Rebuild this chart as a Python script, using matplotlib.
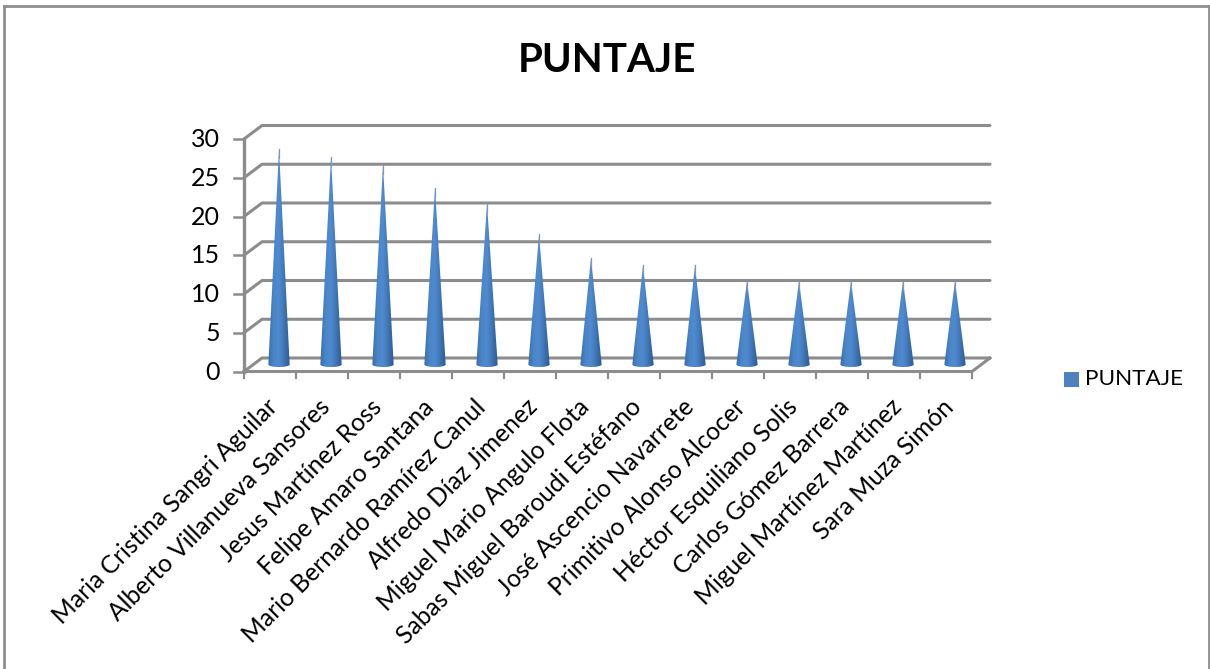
import numpy as np
import matplotlib
matplotlib.use('Agg')
import matplotlib.pyplot as plt
from matplotlib.colors import LinearSegmentedColormap
from matplotlib.patches import Polygon, Rectangle
from matplotlib.lines import Line2D

# Data
names = ['Maria Cristina Sangri Aguilar', 'Alberto Villanueva Sansores', 'Jesus Martínez Ross',
         'Felipe Amaro Santana', 'Mario Bernardo Ramírez Canul', 'Alfredo Díaz Jimenez',
         'Miguel Mario Angulo Flota', 'Sabas Miguel Baroudi Estéfano', 'José Ascencio Navarrete',
         'Primitivo Alonso Alcocer', 'Héctor Esquiliano Solis', 'Carlos Gómez Barrera',
         'Miguel Martínez Martínez', 'Sara Muza Simón']
puntaje = [28, 27, 26, 23, 21, 17, 14, 13, 13, 11, 11, 11, 11, 11]
y_ticks = [0, 5, 10, 15, 20, 25, 30]

W, H = 1210, 669
plt.rcParams['font.family'] = ['Lato', 'DejaVu Sans']
fig = plt.figure(figsize=(W / 100, H / 100), dpi=100)

# Axes box is the front plane of the 3D chart
left, right, top, bottom = 244, 972, 139, 371.5
ax = fig.add_axes([left / W, 1 - bottom / H, (right - left) / W, (bottom - top) / H])
ax.set_xlim(0, len(names))
ax.set_ylim(0, 30)
ax.axis('off')

# Depth of the chart in data units
dx = 18 / ((right - left) / len(names))
dy = 13.5 / ((bottom - top) / 30)
grid = '#8c8c8c'

# Back wall gridlines and side wall
for v in y_ticks:
    ax.plot([0, dx, len(names) + dx], [v, v + dy, v + dy], color=grid, lw=2.2, clip_on=False,
            solid_capstyle='round', solid_joinstyle='round', zorder=1)
    ax.plot([-0.2, 0], [v, v], color=grid, lw=1.8, clip_on=False, zorder=1)
ax.plot([0, 0], [0, 30], color=grid, lw=2.4, clip_on=False, zorder=1)
ax.plot([0, len(names), len(names) + dx], [0, 0, dy], color=grid, lw=2.2, clip_on=False, zorder=1)
for i in range(len(names) + 1):
    ax.plot([i, i], [0, -0.9], color=grid, lw=1.6, clip_on=False, zorder=1)

# Cones: horizontal gradient clipped to a triangle with a rounded base
cone_cmap = LinearSegmentedColormap.from_list('cone', ['#3c6ea8', '#4a85c8', '#4f8bd0', '#3f74b2', '#2b5a92'])
gradient = np.linspace(0, 1, 64).reshape(1, -1)
half_w = 0.205
base_y = 0.9
lift = 0.7  # cones stand half way into the depth of the chart
for i, v in enumerate(puntaje):
    cx = i + 0.5 + dx / 2
    t = np.linspace(0, np.pi, 30)
    arc_x = cx - half_w * np.cos(t)
    arc_y = base_y - 0.32 * np.sin(t)
    poly = np.vstack([np.column_stack([arc_x, arc_y]), [[cx, v + lift]]])
    patch = Polygon(poly, closed=True, transform=ax.transData, facecolor='none', edgecolor='none')
    ax.add_patch(patch)
    im = ax.imshow(gradient, extent=[cx - half_w, cx + half_w, 0, v + lift], aspect='auto', cmap=cone_cmap,
                   zorder=3, interpolation='bilinear')
    im.set_clip_path(patch)
    # faint tip so that the point fades out like in the picture
    ax.plot([cx, cx], [v + lift - 1.2, v + lift], color='#7f97b5', lw=0.9, zorder=3, clip_on=False)
ax.set_xlim(0, len(names))
ax.set_ylim(0, 30)

# Value labels on y axis
for v in y_ticks:
    ax.annotate(str(v), (0, v), xytext=(-17.5, -0.5), textcoords='offset points', ha='right', va='center',
                fontsize=18, color='black', annotation_clip=False)

# Rotated names under the axis
for i, name in enumerate(names):
    ax.annotate(name, (i + 0.5, 0), xytext=(-3, -17), textcoords='offset points', rotation=45,
                rotation_mode='anchor', ha='right', va='top', fontsize=17.7, color='black',
                annotation_clip=False)

# Title, legend and outer frame in figure pixels
fig.text(607 / W, 1 - 61 / H, 'PUNTAJE', ha='center', va='center', fontsize=29, fontweight='bold')
fig.patches.append(Rectangle((1064 / W, 1 - 387 / H), 15 / W, 15 / H, transform=fig.transFigure,
                             facecolor='#4f81bd', edgecolor='none'))
fig.text(1085 / W, 1 - 379 / H, 'PUNTAJE', ha='left', va='center', fontsize=16.2)

frame = '#8e8e8e'
for xs, ys in [([4, 4], [669, 6]), ([4, 1209], [6, 6]), ([1209, 1209], [6, 669])]:
    fig.add_artist(Line2D(np.array(xs) / W, 1 - np.array(ys) / H, color=frame, lw=2,
                          transform=fig.transFigure))

fig.savefig('out.png', dpi=100, facecolor='white')
